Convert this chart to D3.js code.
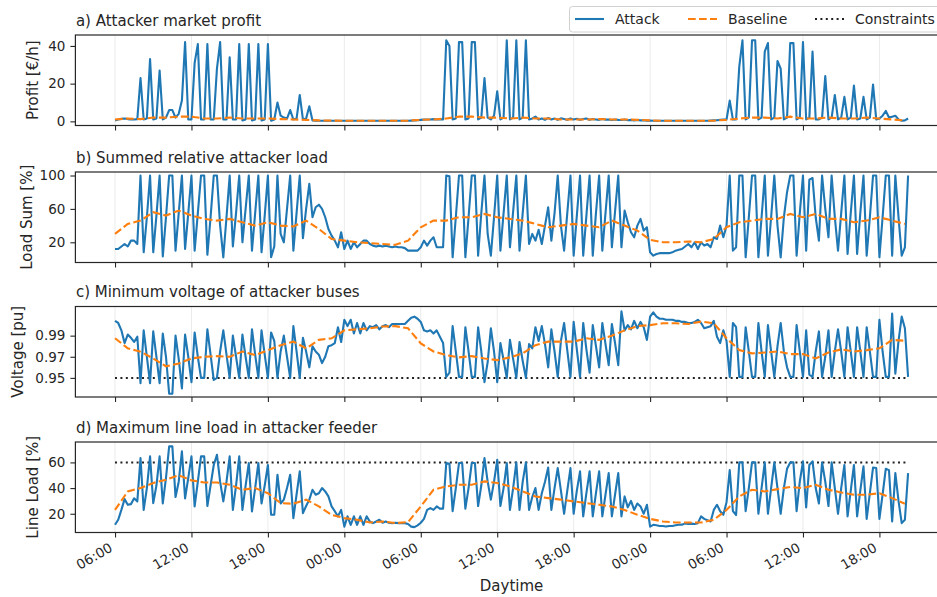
<!DOCTYPE html>
<html>
<head>
<meta charset="utf-8">
<script src="https://cdn.jsdelivr.net/npm/d3@7"></script>
<style>
  body { margin: 0; background: #fff; }
  svg { display: block; font-family: "DejaVu Sans", sans-serif; }
</style>
</head>
<body>
<svg id="chart" width="937" height="597"></svg>
<script>
// ---- data (attack at 15 min steps, baseline hourly, both from 06:00 day 1) ----
const startTime = new Date(2021, 5, 1, 6, 0);
const attackStepMinutes = 15;
const baselineStepMinutes = 60;

const profitAttack = [
  0.5, 1.0, 1.3, 1.5, 1.2, 1.0, 1.0, 1.2,
  23, 1, 1.5, 33, 1, 1.5, 27, 1,
  2, 6, 6, 2, 4, 11, 42, 1,
  1, 31, 41, 1, 1, 41, 1, 1,
  28, 42, 1, 1, 34, 1, 1, 41,
  0.5, 1, 41, 0.5, 1, 41, 0.5, 1,
  41, 0.3, 1, 10, 3, 2, 1.5, 6,
  1, 1.5, 14, 1, 1.5, 8, 0.5, 0.4,
  0.3, 0.3, 0.3, 0.3, 0.3, 0.3, 0.3, 0.3,
  0.3, 0.3, 0.3, 0.3, 0.3, 0.3, 0.3, 0.3,
  0.3, 0.3, 0.3, 0.3, 0.3, 0.3, 0.3, 0.3,
  0.3, 0.3, 0.3, 0.3, 0.3, 0.4, 0.5, 0.6,
  0.8, 0.9, 1.0, 1.0, 1.2, 1.0, 1.2, 1.0,
  43, 40, 1, 1.5, 42, 42, 1, 1.5,
  42, 42, 1, 2, 23, 2, 1, 3,
  16, 1, 2, 43, 1, 2, 43, 1,
  2, 43, 1, 1.5, 2.5, 1, 1.5, 0.8,
  1.8, 1, 1.5, 0.8, 1.6, 1.2, 0.8, 1.5,
  1, 1.4, 0.8, 1.2, 1.5, 0.8, 1.2, 1,
  0.8, 1.2, 0.9, 1, 0.7, 1, 0.8, 0.7,
  1, 0.6, 0.8, 0.5, 0.7, 0.5, 0.6, 0.4,
  0.4, 0.3, 0.3, 0.3, 0.3, 0.3, 0.3, 0.3,
  0.3, 0.3, 0.3, 0.3, 0.3, 0.3, 0.3, 0.3,
  0.3, 0.3, 0.3, 0.4, 0.5, 0.6, 0.8, 1,
  1, 11, 1, 1, 29, 43, 1, 2,
  43, 43, 1, 2, 37, 41.5, 1, 2,
  32, 28, 1, 2, 41.5, 41.5, 1, 2,
  42, 1, 2, 37, 1, 1, 2, 24,
  1, 2, 14, 1, 2, 13, 1, 2,
  19, 1, 1.5, 13, 1, 2, 19.5, 1,
  1.5, 3, 5.5, 2, 2.5, 3, 1, 0.3,
  0.5, 1.5
];
const profitBaseline = [
  1.0, 1.5, 1.2, 2.0, 2.0, 2.5, 2.5, 1.5, 1.5, 2.0,
  1.5, 1.5, 1.5, 1.2, 1.0, 0.8, 0.5, 0.4, 0.3, 0.3,
  0.3, 0.3, 0.3, 0.4, 0.8, 1.0, 1.5, 2.5, 2.5, 2.0,
  2.0, 1.5, 2.0, 1.5, 1.5, 1.0, 1.0, 1.0, 1.2, 1.0,
  1.0, 0.8, 0.5, 0.3, 0.3, 0.3, 0.3, 0.4, 0.8, 1.5,
  2.0, 2.0, 1.5, 2.5, 1.5, 1.5, 2.0, 1.5, 1.5, 2.0,
  1.5, 1.0, 0.5
];

const loadAttack = [
  12, 12, 15, 18, 15, 22, 22, 18,
  100, 8, 50, 100, 8, 52, 100, 3,
  50, 100, 100, 10, 55, 100, 12, 55,
  100, 10, 55, 100, 100, 5, 50, 100,
  100, 40, 2, 50, 100, 15, 55, 100,
  20, 60, 100, 10, 55, 100, 8, 52,
  100, 2, 15, 100, 30, 20, 60, 100,
  10, 55, 100, 25, 60, 90, 50, 62,
  65, 60, 50, 36, 28, 22, 14, 32,
  12, 22, 12, 20, 14, 18, 22, 22,
  18, 16, 15, 16, 15, 16, 15, 14,
  15, 14, 14, 13, 10, 10, 10, 10,
  14, 22, 16, 22, 26, 14, 14, 14,
  100, 99, 2, 50, 100, 100, 2, 50,
  100, 100, 4, 55, 100, 30, 4, 50,
  100, 10, 55, 100, 14, 57, 100, 10,
  55, 100, 18, 30, 22, 35, 18, 40,
  62, 22, 55, 100, 40, 10, 55, 100,
  4, 52, 100, 4, 52, 100, 4, 55,
  100, 10, 55, 100, 14, 57, 100, 14,
  58, 44, 32, 26, 40, 48, 34, 38,
  8, 4, 6, 7, 7, 7, 7, 8,
  10, 11, 12, 15, 18, 14, 20, 12,
  20, 16, 18, 14, 26, 24, 40, 26,
  40, 100, 10, 14, 100, 100, 2, 50,
  100, 100, 2, 50, 100, 4, 50, 100,
  40, 2, 50, 80, 100, 100, 4, 55,
  100, 10, 95, 97, 50, 22, 100, 60,
  26, 100, 50, 10, 55, 100, 6, 55,
  100, 6, 55, 100, 4, 50, 100, 100,
  2, 50, 100, 100, 4, 100, 50, 4,
  14, 100
];
const loadBaseline = [
  30, 42, 46, 56, 52, 58, 52, 48, 46, 48,
  44, 40, 44, 40, 39, 46, 36, 24, 22, 20,
  19, 18, 17, 22, 38, 46, 46, 50, 50, 54,
  50, 48, 46, 42, 38, 40, 42, 40, 38, 46,
  40, 34, 23, 20, 20, 21, 20, 24, 38, 44,
  46, 48, 48, 54, 50, 54, 48, 48, 44, 46,
  50, 46, 42
];

const voltageAttack = [
  1.004, 1.002, 0.995, 0.983, 0.991, 0.988, 0.984, 0.989,
  0.945, 0.995, 0.970, 0.945, 0.994, 0.970, 0.945, 0.992,
  0.970, 0.935, 0.935, 0.990, 0.968, 0.940, 0.991, 0.970,
  0.946, 0.993, 0.970, 0.950, 0.950, 0.996, 0.972, 0.948,
  0.950, 0.975, 0.995, 0.972, 0.950, 0.990, 0.970, 0.950,
  0.991, 0.970, 0.950, 0.996, 0.972, 0.950, 0.995, 0.972,
  0.950, 0.993, 0.985, 0.950, 0.975, 0.990, 0.970, 0.950,
  0.999, 0.975, 0.950, 0.988, 0.975, 0.960, 0.980, 0.975,
  0.972, 0.964, 0.970, 0.980, 0.981, 0.983, 0.998, 0.984,
  1.005, 0.999, 1.005, 0.992, 1.002, 0.992, 1.002, 0.995,
  0.999, 0.998, 1.000, 0.996, 0.999, 1.000, 0.998, 1.001,
  1.001, 1.001, 1.001, 1.001, 1.004, 1.007, 1.008, 1.006,
  1.003, 0.995, 0.994, 0.995, 0.992, 0.995, 0.989, 0.983,
  0.951, 0.955, 0.999, 0.975, 0.951, 0.951, 0.998, 0.975,
  0.951, 0.951, 0.998, 0.975, 0.946, 0.965, 0.997, 0.975,
  0.946, 0.983, 0.967, 0.950, 0.986, 0.968, 0.950, 0.984,
  0.966, 0.950, 0.982, 0.978, 0.998, 0.985, 0.999, 0.982,
  0.960, 0.996, 0.975, 0.951, 0.985, 1.002, 0.976, 0.951,
  1.003, 0.977, 0.951, 1.002, 0.977, 0.955, 1.000, 0.980,
  0.960, 1.002, 0.982, 0.962, 1.001, 0.983, 0.962, 1.013,
  0.995, 1.000, 0.996, 1.004, 0.997, 1.003, 0.998, 0.986,
  1.008, 1.012, 1.008, 1.006, 1.006, 1.005, 1.005, 1.005,
  1.004, 1.004, 1.003, 1.003, 1.002, 1.002, 1.003, 1.005,
  1.002, 0.997, 0.998, 0.999, 1.004, 0.989, 0.983, 0.995,
  0.985, 0.951, 1.002, 0.998, 0.951, 0.951, 0.998, 0.975,
  0.951, 0.951, 1.002, 0.975, 0.951, 1.000, 0.975, 0.951,
  0.980, 1.002, 0.975, 0.960, 0.951, 0.951, 1.000, 0.975,
  0.951, 0.995, 0.953, 0.951, 0.975, 0.994, 0.951, 0.970,
  0.995, 0.951, 0.975, 0.996, 0.975, 0.951, 0.998, 0.975,
  0.951, 0.998, 0.975, 0.951, 0.998, 0.975, 0.951, 0.951,
  1.005, 0.975, 0.951, 0.951, 1.011, 0.954, 0.985, 1.008,
  0.997, 0.951
];
const voltageBaseline = [
  0.9875, 0.978, 0.9748, 0.9684, 0.961, 0.9637, 0.9684, 0.970, 0.9706, 0.970,
  0.975, 0.9716, 0.9763, 0.981, 0.9843, 0.978, 0.986, 0.9875, 0.995, 0.996,
  0.997, 0.9986, 0.999, 0.997, 0.9827, 0.975, 0.9716, 0.9694, 0.9706, 0.9684,
  0.9668, 0.9694, 0.9732, 0.981, 0.9843, 0.9843, 0.9843, 0.9875, 0.986, 0.990,
  0.995, 0.999, 1.000, 1.0017, 1.0017, 1.001, 1.0033, 1.0017, 0.9875, 0.9763,
  0.9732, 0.974, 0.975, 0.9725, 0.9725, 0.9684, 0.974, 0.977, 0.975, 0.9763,
  0.978, 0.986, 0.9852
];
const voltageLimit = 0.95;

const lineAttack = [
  11.4, 15.3, 23, 31.4, 27, 27.5, 32, 29.6,
  63.4, 23, 40, 64.7, 28.3, 42, 64.7, 28,
  48, 72.5, 72.5, 33, 45, 68.6, 32, 48,
  64.7, 25.7, 45, 64.7, 64.7, 26, 42, 58,
  66, 45, 29.6, 45, 64.7, 23, 42, 64.7,
  23, 42, 59.5, 21.8, 40, 59.5, 28, 42,
  58, 19.2, 19.2, 50.4, 28, 31, 40, 50.4,
  16.6, 35, 53, 20.5, 26, 31, 38.7, 34.8,
  36, 40, 37.4, 33.5, 25.7, 22, 18, 23,
  10, 18, 11.4, 18, 11.4, 18, 11.4, 18,
  14, 12.7, 14, 15.3, 13, 14, 13, 12.7,
  13, 12.7, 12.7, 12.7, 12, 10, 9.6, 11,
  13, 16, 23, 24.4, 23, 25.7, 24, 24,
  59.5, 59, 22, 40, 59.5, 59.5, 24, 40,
  59.5, 59.5, 26, 42, 63.4, 45, 31, 45,
  62, 26, 40, 59.5, 23, 40, 60, 23,
  45, 60, 23, 33, 40, 23, 36, 45,
  56, 23, 40, 55.6, 38, 20, 38, 55.6,
  20, 38, 53, 18, 36, 53, 18, 36,
  53, 18, 35, 51.7, 18, 35, 51.7, 18,
  33.5, 25, 30, 23, 28, 25.7, 20, 27,
  10, 11.4, 11, 10.5, 10.5, 10, 10.5, 10.5,
  11, 11.4, 11.5, 12.5, 12, 12.3, 12, 12.7,
  18, 16, 15, 14, 23, 27, 22, 19.2,
  29, 54, 22, 19, 60, 60, 22, 40,
  60, 60, 20, 40, 60, 20, 40, 60,
  40, 20, 40, 55, 60, 60, 22, 45,
  60.8, 25, 58, 60.8, 40, 28, 60, 45,
  26, 60, 40, 20, 40, 58, 18, 38,
  58, 18, 38, 57, 16, 36, 56, 55.6,
  16, 35, 55, 54, 14, 51.7, 30, 12.7,
  15.3, 51.7
];
const lineBaseline = [
  23, 37.4, 40, 44, 46.5, 50, 46, 44.4, 44.4, 42.6,
  38.7, 40, 36, 28.3, 27.8, 31, 25.7, 19.2, 16.6, 15.3,
  13.2, 14, 12.7, 13.5, 25.7, 38.7, 41.3, 42.6, 42.6, 45.2,
  44, 41.3, 37.4, 33.5, 32.2, 31, 29.6, 28.3, 27, 25.7,
  23, 19.2, 16, 14, 13.2, 13.2, 13.2, 15.3, 23, 33.5,
  38.7, 37.4, 39.2, 40.8, 40, 42.6, 38.7, 36.6, 34.8, 34.8,
  36, 32.2, 27.8
];
const lineLimit = 60;

const panelTitles = [
  'a) Attacker market profit',
  'b) Summed relative attacker load',
  'c) Minimum voltage of attacker buses',
  'd) Maximum line load in attacker feeder'
];
const yLabels = ['Profit [€/h]', 'Load Sum [%]', 'Voltage [pu]', 'Line Load [%]'];
const yTickValues = [[0, 20, 40], [20, 60, 100], [0.95, 0.97, 0.99], [20, 40, 60]];
const legendNames = ['Attack', 'Baseline', 'Constraints'];
const xLabel = 'Daytime';

// ---- layout ----
const svg = d3.select('#chart');
const plotLeft = 75.4;
const plotRight = 947.7;
const panelTops = [35, 172, 306.5, 442];
const panelHeight = 90.5;
const ink = '#262626';
const blue = '#1f77b4';
const orange = '#ff7f0e';

const hourMs = 3600 * 1000;
const x = d3.scaleTime()
  .domain([new Date(+startTime - 3.11 * hourMs), new Date(+startTime + 65.36 * hourMs)])
  .range([plotLeft, plotRight]);

const toPoints = (values, stepMinutes) =>
  values.map((v, i) => ({ t: new Date(+startTime + i * stepMinutes * 60000), v }));

const panels = [
  { attack: profitAttack, baseline: profitBaseline, limit: null, domain: [-2.2, 45.8], fmt: d3.format('d'), labelX: 38 },
  { attack: loadAttack, baseline: loadBaseline, limit: null, domain: [-4.2, 104.2], fmt: d3.format('d'), labelX: 32 },
  { attack: voltageAttack, baseline: voltageBaseline, limit: voltageLimit, domain: [0.9319, 1.0176], fmt: d3.format('.2f'), labelX: 23 },
  { attack: lineAttack, baseline: lineBaseline, limit: lineLimit, domain: [5.4, 75.9], fmt: d3.format('d'), labelX: 38 }
];

const xTicks = x.ticks(d3.timeHour.every(6)).filter(d => d >= startTime);

panels.forEach((p, k) => {
  const top = panelTops[k];
  const y = d3.scaleLinear().domain(p.domain).range([top + panelHeight, top]);
  const g = svg.append('g');

  // vertical grid
  g.selectAll('.grid')
    .data(xTicks)
    .enter()
    .append('line')
    .attr('x1', d => x(d)).attr('x2', d => x(d))
    .attr('y1', top).attr('y2', top + panelHeight)
    .attr('stroke', '#ebebeb')
    .attr('stroke-width', 1);

  const line = d3.line().x(d => x(d.t)).y(d => y(d.v));

  if (p.limit !== null) {
    const limitPts = [{ t: startTime, v: p.limit },
      { t: new Date(+startTime + (p.attack.length - 1) * attackStepMinutes * 60000), v: p.limit }];
    g.append('path')
      .attr('d', line(limitPts))
      .attr('fill', 'none')
      .attr('stroke', '#222')
      .attr('stroke-width', 2)
      .attr('stroke-dasharray', '2,3.4');
  }

  g.append('path')
    .attr('d', line(toPoints(p.attack, attackStepMinutes)))
    .attr('fill', 'none')
    .attr('stroke', blue)
    .attr('stroke-width', 2.1)
    .attr('stroke-linejoin', 'round');

  g.append('path')
    .attr('d', line(toPoints(p.baseline, baselineStepMinutes)))
    .attr('fill', 'none')
    .attr('stroke', orange)
    .attr('stroke-width', 2.1)
    .attr('stroke-dasharray', '7.7,3.3');

  // frame
  g.append('rect')
    .attr('x', plotLeft).attr('y', top)
    .attr('width', plotRight - plotLeft).attr('height', panelHeight)
    .attr('fill', 'none')
    .attr('stroke', ink)
    .attr('stroke-width', 1.2);

  // y axis
  const yAxis = g.append('g')
    .attr('transform', 'translate(' + plotLeft + ',0)')
    .call(d3.axisLeft(y).tickValues(yTickValues[k]).tickFormat(p.fmt).tickSize(5).tickPadding(5));
  yAxis.select('.domain').remove();
  yAxis.selectAll('line').attr('stroke', ink).attr('stroke-width', 1.1);
  yAxis.selectAll('text')
    .attr('fill', ink)
    .style('font-size', '13.5px')
    .style('font-family', '"DejaVu Sans", sans-serif');

  // x axis
  const xAxis = g.append('g')
    .attr('transform', 'translate(0,' + (top + panelHeight) + ')')
    .call(d3.axisBottom(x).tickValues(xTicks).tickSize(5)
      .tickFormat(k === 3 ? d3.timeFormat('%H:%M') : () => ''));
  xAxis.select('.domain').remove();
  xAxis.selectAll('line').attr('stroke', ink).attr('stroke-width', 1.1);
  xAxis.selectAll('text')
    .attr('fill', ink)
    .attr('text-anchor', 'end')
    .attr('x', 0).attr('y', 0).attr('dy', 0)
    .attr('transform', 'translate(-2,18) rotate(-30)')
    .style('font-size', '13.5px')
    .style('font-family', '"DejaVu Sans", sans-serif');

  // title
  g.append('text')
    .attr('x', plotLeft + 0.5)
    .attr('y', top - 9.5)
    .attr('fill', ink)
    .style('font-size', '15px')
    .text(panelTitles[k]);

  // y label
  g.append('text')
    .attr('transform', 'translate(' + p.labelX + ',' + (top + panelHeight / 2) + ') rotate(-90)')
    .attr('text-anchor', 'middle')
    .attr('fill', ink)
    .style('font-size', '15px')
    .text(yLabels[k]);
});

// x label
svg.append('text')
  .attr('x', (plotLeft + plotRight) / 2)
  .attr('y', 591)
  .attr('text-anchor', 'middle')
  .attr('fill', ink)
  .style('font-size', '15px')
  .text(xLabel);

// legend
const legend = svg.append('g');
legend.append('rect')
  .attr('x', 569.5).attr('y', 6.5)
  .attr('width', 375).attr('height', 25.5)
  .attr('rx', 3)
  .attr('fill', '#fff')
  .attr('stroke', '#d0d0d0')
  .attr('stroke-width', 1);

const legendItems = [
  { name: legendNames[0], color: blue, dash: null, x0: 575, tx: 615 },
  { name: legendNames[1], color: orange, dash: '7.7,3.3', x0: 688, tx: 728 },
  { name: legendNames[2], color: '#222', dash: '2,3.4', x0: 815, tx: 855 }
];
legendItems.forEach(d => {
  legend.append('line')
    .attr('x1', d.x0).attr('x2', d.x0 + 29)
    .attr('y1', 19).attr('y2', 19)
    .attr('stroke', d.color)
    .attr('stroke-width', d.dash === '2,3.4' ? 2 : 2.1)
    .attr('stroke-dasharray', d.dash);
  legend.append('text')
    .attr('x', d.tx).attr('y', 19)
    .attr('dy', '0.35em')
    .attr('fill', ink)
    .style('font-size', '14px')
    .text(d.name);
});
</script>
</body>
</html>
